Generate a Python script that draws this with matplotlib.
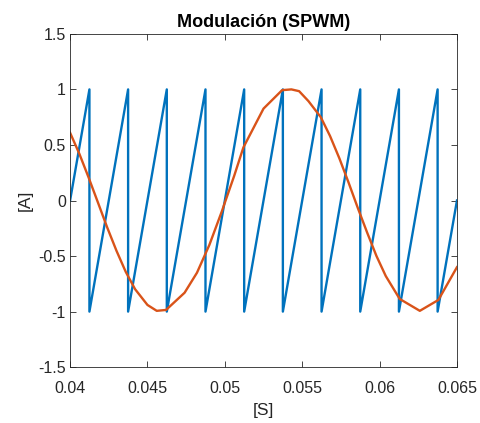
import matplotlib
matplotlib.use("Agg")
import matplotlib.pyplot as plt

plt.rcParams['font.family'] = ['Liberation Sans', 'DejaVu Sans']
plt.rcParams['axes.unicode_minus'] = False

# Portadora triangular (diente de sierra)
saw_t = [0.04, 0.04125, 0.04125, 0.04375, 0.04375, 0.04625, 0.04625, 0.04875, 0.04875,
         0.05125, 0.05125, 0.05375, 0.05375, 0.05625, 0.05625, 0.05875, 0.05875,
         0.06125, 0.06125, 0.06375, 0.06375, 0.065]
saw_v = [0, 1, -1, 1, -1, 1, -1, 1, -1,
         1, -1, 1, -1, 1, -1, 1, -1,
         1, -1, 1, -1, 0]

# Moduladora senoidal (muestras)
sin_t = [0.0400, 0.0406, 0.0412, 0.0418, 0.0424, 0.0430, 0.0436, 0.0442, 0.0450,
         0.0456, 0.0462, 0.0474, 0.0482, 0.0490, 0.0498, 0.0506, 0.0512, 0.0525,
         0.0537, 0.0543, 0.0548, 0.0554, 0.0562, 0.0568, 0.0574, 0.0580, 0.0586,
         0.0592, 0.0598, 0.0604, 0.0613, 0.0626, 0.0638, 0.0650]
sin_v = [0.61, 0.42, 0.206, -0.018, -0.243, -0.453, -0.643, -0.798, -0.94,
         -0.993, -0.985, -0.83, -0.65, -0.40, -0.10, 0.22, 0.478, 0.827,
         0.993, 1.0, 0.984, 0.895, 0.75, 0.58, 0.38, 0.16, -0.07,
         -0.29, -0.50, -0.68, -0.886, -0.993, -0.895, -0.60]

xticks = [0.04, 0.045, 0.05, 0.055, 0.06, 0.065]
xlabels = ['0.04', '0.045', '0.05', '0.055', '0.06', '0.065']
yticks = [-1.5, -1, -0.5, 0, 0.5, 1, 1.5]
ylabels = ['-1.5', '-1', '-0.5', '0', '0.5', '1', '1.5']

fig = plt.figure(figsize=(4.8, 4.23), dpi=100)
ax = fig.add_axes([0.146, 0.132, 0.806, 0.788])

ax.plot(saw_t, saw_v, color='#0072BD', lw=1.7)
ax.plot(sin_t, sin_v, color='#D95319', lw=1.7)

ax.set_xlim(0.04, 0.065)
ax.set_ylim(-1.5, 1.5)
ax.set_xticks(xticks)
ax.set_xticklabels(xlabels)
ax.set_yticks(yticks)
ax.set_yticklabels(ylabels)
ax.tick_params(direction='in', top=True, right=True, length=4, width=0.6,
               labelsize=11.5, colors='#262626')
ax.tick_params(axis='x', pad=10)
ax.tick_params(axis='y', pad=3)
for s in ax.spines.values():
    s.set_color('#262626')
    s.set_linewidth(0.6)

ax.set_title('Modulación (SPWM)', fontsize=13, fontweight='bold', pad=5)
ax.set_xlabel('[S]', fontsize=12.5, color='#262626', labelpad=5)
ax.set_ylabel('[A]', fontsize=12.5, color='#262626', labelpad=4)

fig.savefig('out.png', dpi=100)
